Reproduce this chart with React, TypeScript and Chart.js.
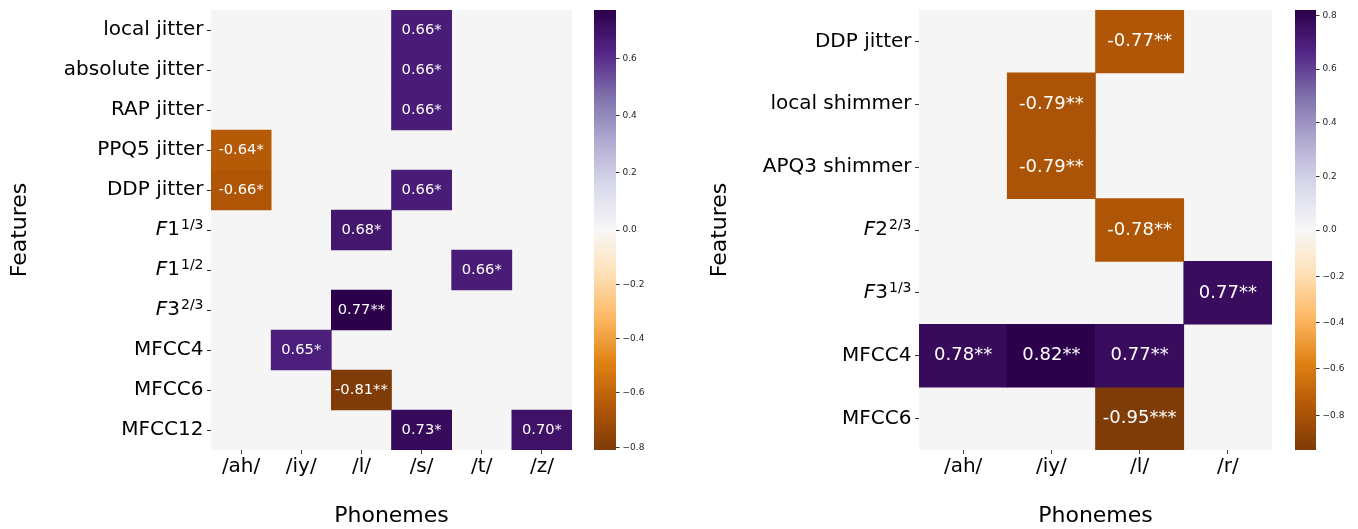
import React, { useEffect, useRef } from 'react';
import { Chart, registerables } from 'chart.js';

Chart.register(...registerables);

const FONT = '"DejaVu Sans", "Liberation Sans", sans-serif';

// ---------- data ----------
const leftPhonemes = ['/ah/', '/iy/', '/l/', '/s/', '/t/', '/z/'];
const leftFeatures = [
  'local jitter', 'absolute jitter', 'RAP jitter', 'PPQ5 jitter', 'DDP jitter',
  'F1^{1/3}', 'F1^{1/2}', 'F3^{2/3}', 'MFCC4', 'MFCC6', 'MFCC12',
];
const leftValues: (number | null)[][] = [
  [null, null, null, 0.66, null, null],
  [null, null, null, 0.66, null, null],
  [null, null, null, 0.66, null, null],
  [-0.64, null, null, null, null, null],
  [-0.66, null, null, 0.66, null, null],
  [null, null, 0.68, null, null, null],
  [null, null, null, null, 0.66, null],
  [null, null, 0.77, null, null, null],
  [null, 0.65, null, null, null, null],
  [null, null, -0.81, null, null, null],
  [null, null, null, 0.73, null, 0.70],
];
const leftStars: string[][] = [
  ['', '', '', '*', '', ''],
  ['', '', '', '*', '', ''],
  ['', '', '', '*', '', ''],
  ['*', '', '', '', '', ''],
  ['*', '', '', '*', '', ''],
  ['', '', '*', '', '', ''],
  ['', '', '', '', '*', ''],
  ['', '', '**', '', '', ''],
  ['', '*', '', '', '', ''],
  ['', '', '**', '', '', ''],
  ['', '', '', '*', '', '*'],
];

const rightPhonemes = ['/ah/', '/iy/', '/l/', '/r/'];
const rightFeatures = [
  'DDP jitter', 'local shimmer', 'APQ3 shimmer', 'F2^{2/3}', 'F3^{1/3}', 'MFCC4', 'MFCC6',
];
const rightValues: (number | null)[][] = [
  [null, null, -0.77, null],
  [null, -0.79, null, null],
  [null, -0.79, null, null],
  [null, null, -0.78, null],
  [null, null, null, 0.77],
  [0.78, 0.82, 0.77, null],
  [null, null, -0.95, null],
];
const rightStars: string[][] = [
  ['', '', '**', ''],
  ['', '**', '', ''],
  ['', '**', '', ''],
  ['', '', '**', ''],
  ['', '', '', '**'],
  ['**', '**', '**', ''],
  ['', '', '***', ''],
];

const colorbarTicks = [-0.8, -0.6, -0.4, -0.2, 0, 0.2, 0.4, 0.6, 0.8];

// ---------- colour map (PuOr, matplotlib) ----------
const PUOR = ['#7f3b08', '#b35806', '#e08214', '#fdb863', '#fee0b6', '#f7f7f7', '#d8daeb', '#b2abd2', '#8073ac', '#542788', '#2d004b'];
const BG = '#f5f5f5';

function hexToRgb(h: string) {
  return [parseInt(h.slice(1, 3), 16), parseInt(h.slice(3, 5), 16), parseInt(h.slice(5, 7), 16)];
}
function cmap(t: number) {
  const tt = Math.max(0, Math.min(1, t)) * (PUOR.length - 1);
  const i = Math.min(PUOR.length - 2, Math.floor(tt));
  const f = tt - i;
  const a = hexToRgb(PUOR[i]);
  const b = hexToRgb(PUOR[i + 1]);
  const c = a.map((v, k) => Math.round(v + (b[k] - v) * f));
  return `rgb(${c[0]},${c[1]},${c[2]})`;
}
function range(values: (number | null)[][]) {
  const all = values.flat().filter((v): v is number => v != null);
  return { vmin: Math.min(...all), vmax: Math.max(...all) };
}
const norm = (v: number, vmin: number, vmax: number) => (v < 0 ? -v / vmin : v / vmax);
const denorm = (n: number, vmin: number, vmax: number) => (n < 0 ? -n * vmin : n * vmax);
const fmtTick = (v: number) => (Math.abs(v) < 1e-9 ? '0.0' : (v < 0 ? '\u2212' : '') + Math.abs(v).toFixed(1));

// ---------- plugin: background, annotations, math tick labels ----------
const heatPlugin = {
  id: 'heat',
  beforeDatasetsDraw(chart: any) {
    const { ctx, chartArea: a } = chart;
    ctx.save();
    ctx.fillStyle = BG;
    ctx.fillRect(a.left, a.top, a.right - a.left, a.bottom - a.top);
    ctx.restore();
  },
  afterDatasetsDraw(chart: any, _a: any, opts: any) {
    const { ctx } = chart;
    const xs = chart.scales.x;
    const ys = chart.scales.y;
    ctx.save();
    ctx.fillStyle = '#ffffff';
    ctx.font = `${opts.annotSize}px ${FONT}`;
    ctx.textAlign = 'center';
    ctx.textBaseline = 'middle';
    (opts.values as (number | null)[][]).forEach((row, r) =>
      row.forEach((v, c) => {
        if (v == null) return;
        ctx.fillText(v.toFixed(2) + opts.stars[r][c], xs.getPixelForValue(c), ys.getPixelForValue(r));
      })
    );
    // math-style tick labels
    const xr = ys.right - opts.tickGap;
    ctx.fillStyle = '#000000';
    (opts.features as string[]).forEach((f, r) => {
      const m = /^(.)(.*)\^\{(.*)\}$/.exec(f);
      if (!m) return;
      const y = ys.getPixelForValue(r);
      const fItal = `italic 20px ${FONT}`;
      const fReg = `20px ${FONT}`;
      const fSup = `14px ${FONT}`;
      ctx.font = fItal; const w1 = ctx.measureText(m[1]).width;
      ctx.font = fReg; const w2 = ctx.measureText(m[2]).width;
      ctx.font = fSup; const w3 = ctx.measureText(m[3]).width;
      let x = xr - (w1 + w2 + w3 + 1);
      ctx.textAlign = 'left';
      ctx.textBaseline = 'middle';
      ctx.font = fItal; ctx.fillText(m[1], x, y); x += w1;
      ctx.font = fReg; ctx.fillText(m[2], x, y); x += w2 + 1;
      ctx.textBaseline = 'alphabetic';
      ctx.font = fSup; ctx.fillText(m[3], x, y - 1);
    });
    ctx.restore();
  },
};

function heatConfig(phonemes: string[], features: string[], values: (number | null)[][], stars: string[][], annotSize: number, yWidth: number): any {
  const { vmin, vmax } = range(values);
  const datasets = values.map((row, r) => ({
    label: features[r],
    data: row.map((v) => (v == null ? null : [r - 0.5, r + 0.5])),
    backgroundColor: row.map((v) => (v == null ? 'rgba(0,0,0,0)' : cmap(0.5 + 0.5 * norm(v, vmin, vmax)))),
    borderWidth: 0,
    barPercentage: 1,
    categoryPercentage: 1,
    grouped: false,
  }));
  const tickLen = 4;
  const tickPad = 3.5;
  return {
    type: 'bar',
    data: { labels: phonemes, datasets },
    options: {
      animation: false,
      responsive: false,
      events: [],
      layout: { padding: { left: 0, right: 18, top: 10, bottom: 0 } },
      plugins: {
        legend: { display: false },
        tooltip: { enabled: false },
        heat: { values, stars, features, annotSize, tickGap: tickLen + tickPad },
      },
      scales: {
        x: {
          type: 'category',
          offset: true,
          grid: { offset: false, drawOnChartArea: false, drawTicks: true, tickLength: tickLen, tickColor: '#333333', tickWidth: 1 },
          border: { display: false },
          ticks: { font: { family: FONT, size: 20 }, color: '#000000', padding: 1, maxRotation: 0, autoSkip: false },
          title: { display: true, text: 'Phonemes', font: { family: FONT, size: 22 }, color: '#000000', padding: { top: 0, bottom: 0 } },
          afterFit: (s: any) => { s.height = 79; s.paddingLeft = 0; s.paddingRight = 0; },
        },
        y: {
          type: 'linear',
          min: -0.5,
          max: features.length - 0.5,
          reverse: true,
          grid: { drawOnChartArea: false, drawTicks: true, tickLength: tickLen, tickColor: '#333333', tickWidth: 1 },
          border: { display: false },
          afterBuildTicks: (s: any) => { s.ticks = features.map((_, i) => ({ value: i })); },
          ticks: {
            autoSkip: false,
            font: { family: FONT, size: 20 },
            color: '#000000',
            padding: tickPad,
            callback: (v: any) => {
              const f = features[Math.round(Number(v))];
              return f && !f.includes('^') ? f : '';
            },
          },
          title: { display: true, text: 'Features', font: { family: FONT, size: 22 }, color: '#000000', padding: { top: 6.8, bottom: 0 } },
          afterFit: (s: any) => { s.width = yWidth; s.paddingTop = 0; s.paddingBottom = 0; },
        },
      },
    },
    plugins: [heatPlugin],
  };
}

function colorbarConfig(values: (number | null)[][], axisWidth: number): any {
  const { vmin, vmax } = range(values);
  return {
    type: 'bar',
    data: {
      labels: [''],
      datasets: [{
        data: [[-1, 1]],
        borderWidth: 0,
        barPercentage: 1,
        categoryPercentage: 1,
        backgroundColor: (c: any) => {
          const ch = c.chart;
          const a = ch.chartArea;
          if (!a) return PUOR[5];
          const g = ch.ctx.createLinearGradient(0, a.bottom, 0, a.top);
          PUOR.forEach((col, i) => g.addColorStop(i / (PUOR.length - 1), col));
          return g;
        },
      }],
    },
    options: {
      animation: false,
      responsive: false,
      events: [],
      layout: { padding: { left: 4, right: 0, top: 10, bottom: 79 } },
      plugins: { legend: { display: false }, tooltip: { enabled: false } },
      scales: {
        x: { display: false, offset: true },
        y: {
          type: 'linear',
          position: 'right',
          min: -1,
          max: 1,
          grid: { drawOnChartArea: false, drawTicks: true, tickLength: 3.5, tickColor: '#333333', tickWidth: 1 },
          border: { display: false },
          afterBuildTicks: (s: any) => {
            s.ticks = colorbarTicks
              .filter((v) => v >= vmin - 1e-9 && v <= vmax + 1e-9)
              .map((v) => ({ value: norm(v, vmin, vmax) }));
          },
          ticks: {
            autoSkip: false,
            font: { family: FONT, size: 9 },
            color: '#262626',
            padding: 3,
            callback: (v: any) => fmtTick(denorm(Number(v), vmin, vmax)),
          },
          afterFit: (s: any) => { s.width = axisWidth; s.paddingTop = 0; s.paddingBottom = 0; },
        },
      },
    },
  };
}

function ChartCanvas({ config, left, width }: { config: () => any; left: number; width: number }) {
  const ref = useRef<HTMLCanvasElement | null>(null);
  useEffect(() => {
    if (!ref.current) return;
    const chart = new Chart(ref.current, config());
    return () => chart.destroy();
  }, []);
  return (
    <canvas
      ref={ref}
      width={width}
      height={529}
      style={{ position: 'absolute', left, top: 0, width, height: 529, display: 'block' }}
    />
  );
}

export default function App() {
  return (
    <div style={{ position: 'absolute', left: 0, top: 0, width: 1358, height: 529, background: '#ffffff', overflow: 'hidden' }}>
      <ChartCanvas left={0} width={590} config={() => heatConfig(leftPhonemes, leftFeatures, leftValues, leftStars, 14.7, 211)} />
      <ChartCanvas left={590} width={80} config={() => colorbarConfig(leftValues, 54)} />
      <ChartCanvas left={700} width={590} config={() => heatConfig(rightPhonemes, rightFeatures, rightValues, rightStars, 18, 219)} />
      <ChartCanvas left={1291} width={67} config={() => colorbarConfig(rightValues, 42)} />
    </div>
  );
}
